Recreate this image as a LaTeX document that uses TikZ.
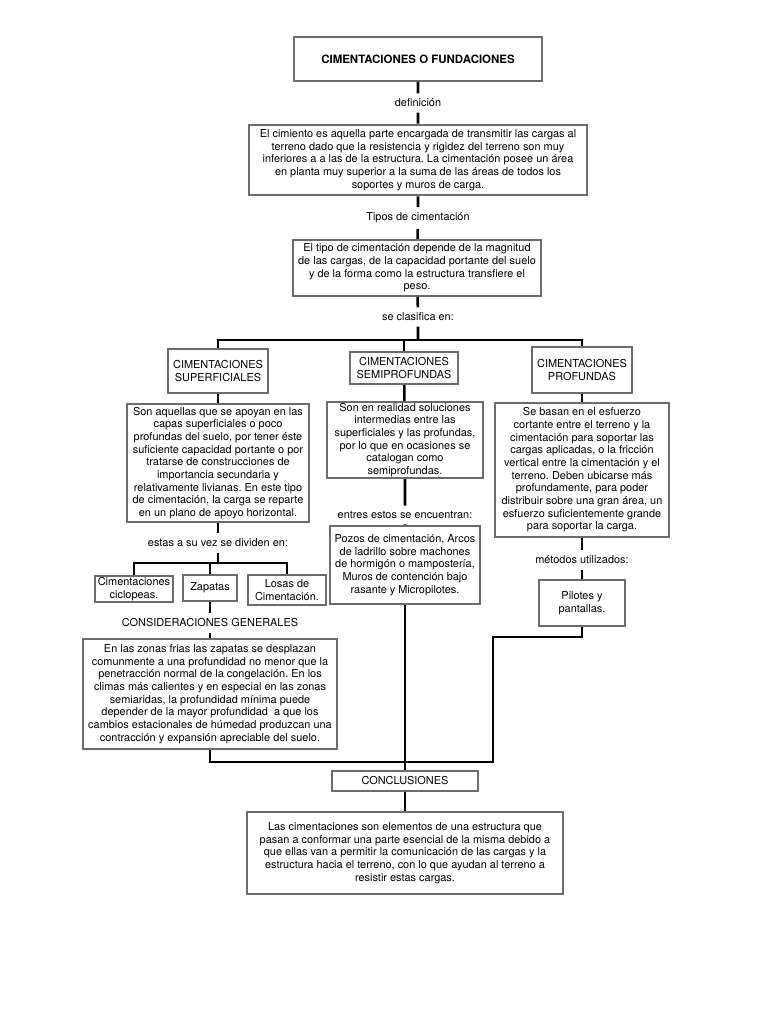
\documentclass[tikz,border=0pt]{standalone}
\usepackage{fontspec}
\setmainfont{TeX Gyre Heros}
\frenchspacing

\begin{document}
\begin{tikzpicture}[x=0.75pt,y=-0.75pt,
  caja/.style={draw=gray!85!black, line width=1.4pt, align=center, inner sep=1pt,
    font=\fontsize{8.2}{9.5}\selectfont},
  etiqueta/.style={align=center, inner sep=4pt, font=\fontsize{8.2}{9.5}\selectfont},
  linea/.style={line width=1.9pt}]

% Fix the page size
\useasboundingbox (0,0) rectangle (768,1024);

% Title and definition
\node[caja, minimum width=186pt, minimum height=33pt, font=\fontsize{8.6}{10}\selectfont\bfseries] (titulo) at (418,59) {CIMENTACIONES O FUNDACIONES};
\node[etiqueta] (definicion) at (418,103) {definición};
\node[caja, minimum width=253.5pt, minimum height=53pt] (cimiento) at (418,160) {El cimiento es aquella parte encargada de transmitir las cargas al\\terreno dado que la resistencia y rigidez del terreno son muy\\inferiores a a las de la estructura. La cimentación posee un área\\en planta muy superior a la suma de las áreas de todos los\\soportes y muros de carga.};
\node[etiqueta] (tipos) at (418,218) {Tipos de cimentación};
\node[caja, minimum width=186pt, minimum height=42pt] (tipo) at (417,268) {El tipo de cimentación depende de la magnitud\\de las cargas, de la capacidad portante del suelo\\y de la forma como la estructura transfiere el\\peso.};
\node[etiqueta] (clasifica) at (418,317) {se clasifica en:};
\coordinate (bus) at (418,340);

% Three kinds of foundation
\node[caja, minimum width=75pt, minimum height=33pt] (superf) at (218,371) {CIMENTACIONES\\SUPERFICIALES};
\node[caja, minimum width=81pt, minimum height=24pt] (semi) at (404,368) {CIMENTACIONES\\SEMIPROFUNDAS};
\node[caja, minimum width=75pt, minimum height=34pt] (prof) at (582,370) {CIMENTACIONES\\PROFUNDAS};

% Left column
\node[caja, minimum width=137pt, minimum height=89pt] (aquellas) at (218,463) {Son aquellas que se apoyan en las\\capas superficiales o poco\\profundas del suelo, por tener éste\\suficiente capacidad portante o por\\tratarse de construcciones de\\importancia secundaria y\\relativamente livianas. En este tipo\\de cimentación, la carga se reparte\\en un plano de apoyo horizontal.};
\node[etiqueta] (dividen) at (218,543) {estas a su vez se dividen en:};
\coordinate (busb) at (218,563);
\node[caja, minimum width=58.5pt, minimum height=20pt] (ciclop) at (134,589) {Cimentaciones\\ciclopeas.};
\node[caja, minimum width=40.5pt, minimum height=19pt] (zapatas) at (210,588) {Zapatas};
\node[caja, minimum width=58.5pt, minimum height=22.5pt] (losas) at (287,590) {Losas de\\Cimentación.};
\node[etiqueta] (consid) at (210,623) {CONSIDERACIONES GENERALES};
\node[caja, minimum width=190.5pt, minimum height=82.5pt] (frias) at (210,694) {En las zonas frias las zapatas se desplazan\\comunmente a una profundidad no menor que la\\penetracción normal de la congelación. En los\\climas más calientes y en especial en las zonas\\semiaridas, la profundidad mínima puede\\depender de la mayor profundidad \ a que los\\cambios estacionales de húmedad produzcan una\\contracción y expansión apreciable del suelo.};

% Middle column
\node[caja, minimum width=117pt, minimum height=56pt] (realidad) at (405,440) {Son en realidad soluciones\\intermedias entre las\\superficiales y las profundas,\\por lo que en ocasiones se\\catalogan como\\semiprofundas.};
\node[etiqueta] (encuentran) at (405,515) {entres estos se encuentran:};
\node[caja, minimum width=112.5pt, minimum height=58.5pt] (pozos) at (405,565) {Pozos de cimentación, Arcos\\de ladrillo sobre machones\\de hormigón o mampostería,\\Muros de contención bajo\\rasante y Micropilotes.};

% Right column
\node[caja, minimum width=130.5pt, minimum height=100.5pt] (basan) at (582,470) {Se basan en el esfuerzo\\cortante entre el terreno y la\\cimentación para soportar las\\cargas aplicadas, o la fricción\\vertical entre la cimentación y el\\terreno. Deben ubicarse más\\profundamente, para poder\\distribuir sobre una gran área, un\\esfuerzo suficientemente grande\\para soportar la carga.};
\node[etiqueta] (metodos) at (582,560) {métodos utilizados:};
\node[caja, minimum width=65pt, minimum height=34pt] (pilotes) at (582,603) {Pilotes y\\pantallas.};
\coordinate (codo) at (493,637);

% Conclusions
\coordinate (junta) at (405,762);
\node[caja, minimum width=109.5pt, minimum height=15pt] (conclu) at (405,781) {CONCLUSIONES};
\node[caja, minimum width=237pt, minimum height=62pt] (final) at (405,853) {Las cimentaciones son elementos de una estructura que\\pasan a conformar una parte esencial de la misma debido a\\que ellas van a permitir la comunicación de las cargas y la\\estructura hacia el terreno, con lo que ayudan al terreno a\\resistir estas cargas.};

% Connectors
\draw[linea] (titulo) -- (definicion) -- (cimiento) -- (tipos) -- (tipo) -- (clasifica) -- (bus);
\draw[linea] (superf.north) |- (bus) -| (prof.north);
\draw[linea] (semi.north) -- (semi.north |- bus);
\draw[linea] (superf) -- (aquellas) -- (dividen) -- (busb);
\draw[linea] (prof) -- (basan) -- (metodos) -- (pilotes);
\draw[linea] (semi) -- (realidad) -- (encuentran) -- (pozos);
\draw[linea] (ciclop.north) |- (busb) -| (losas.north);
\draw[linea] (zapatas.north) -- (zapatas.north |- busb);
\draw[linea] (zapatas) -- (consid) -- (frias);
\draw[linea] (frias.south) |- (junta);
\draw[linea] (pilotes.south) |- (codo) |- (junta);
\draw[linea] (pozos) -- (conclu) -- (final);
\end{tikzpicture}
\end{document}
